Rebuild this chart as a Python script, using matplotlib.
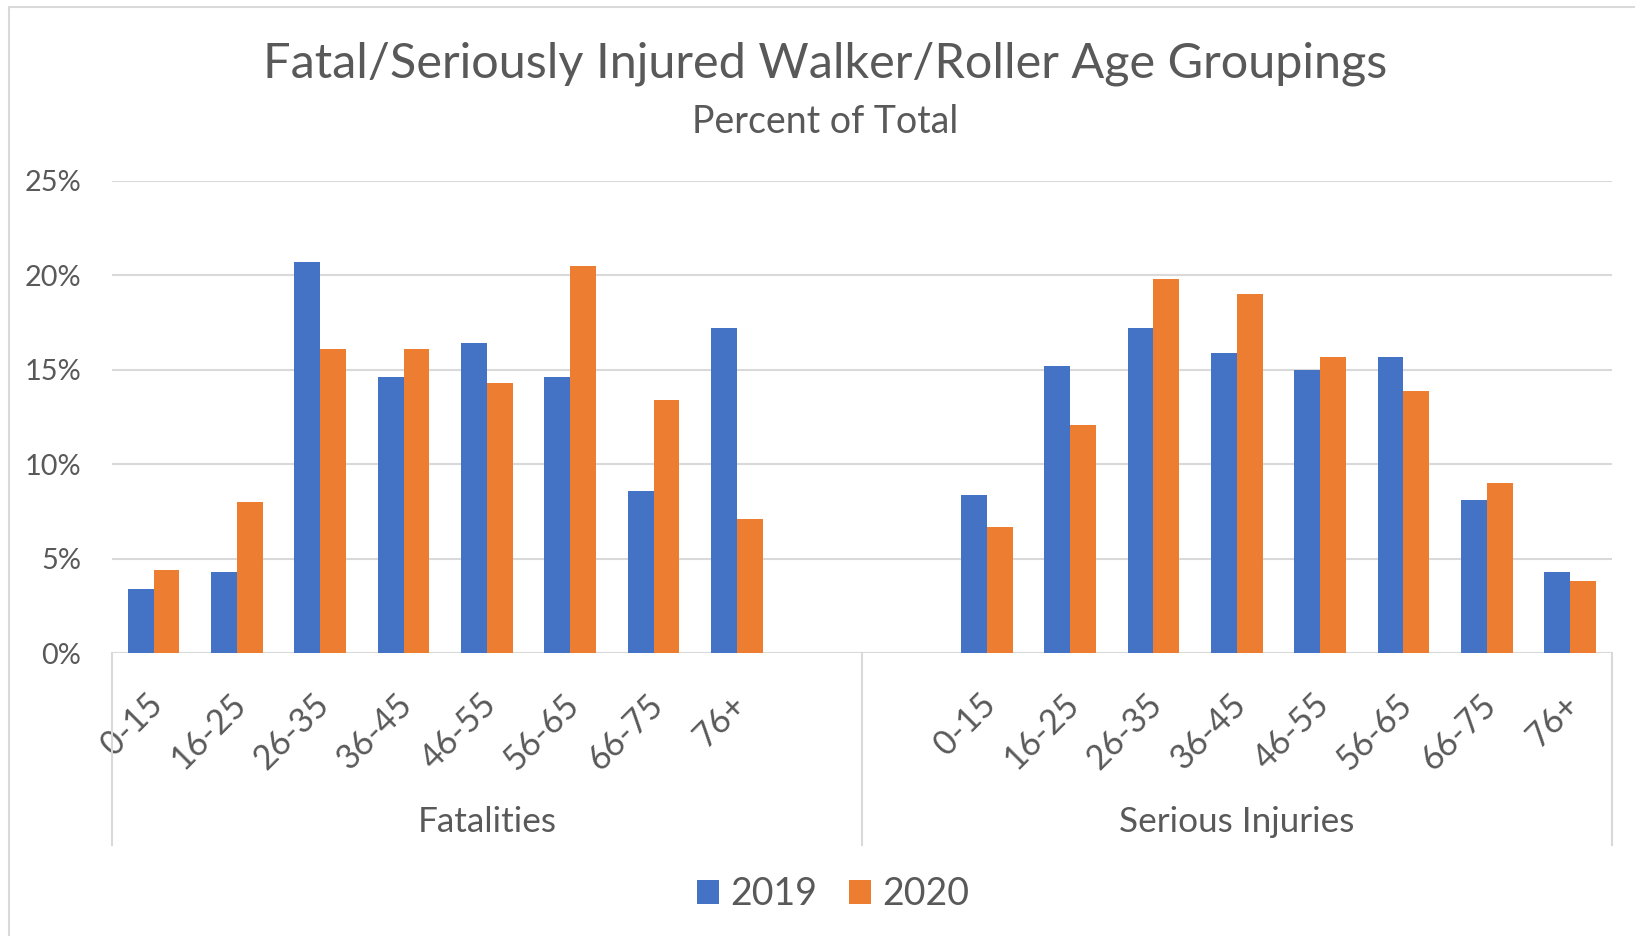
import matplotlib
matplotlib.use("Agg")
import matplotlib.pyplot as plt
import matplotlib.transforms as mtransforms
from matplotlib.patches import Patch, Rectangle
import numpy as np

plt.rcParams['font.family'] = ['Lato', 'DejaVu Sans']

# ---- data ----
age_groups = ["0-15", "16-25", "26-35", "36-45", "46-55", "56-65", "66-75", "76+"]
groups = ["Fatalities", "Serious Injuries"]
fatal_2019 = [3.4, 4.3, 20.7, 14.6, 16.4, 14.6, 8.6, 17.2]
fatal_2020 = [4.4, 8.0, 16.1, 16.1, 14.3, 20.5, 13.4, 7.1]
injury_2019 = [8.4, 15.2, 17.2, 15.9, 15.0, 15.7, 8.1, 4.3]
injury_2020 = [6.7, 12.1, 19.8, 19.0, 15.7, 13.9, 9.0, 3.8]
series_names = ["2019", "2020"]
yticks = [0, 5, 10, 15, 20, 25]

BLUE = "#4472C4"
ORANGE = "#ED7D31"
TXT = "#595959"
GRID = "#D9D9D9"

W, H = 1635, 936
fig = plt.figure(figsize=(W / 100, H / 100), dpi=100)

# outer chart border
fig.patches.append(Rectangle((9 / W, -0.1), 1.2, 1 - 7 / H + 0.1, transform=fig.transFigure,
                             fill=False, edgecolor=GRID, lw=1.5))

left, right = 112 / W, 1611.7 / W
bottom, top = 1 - 653.3 / H, 1 - 180.7 / H
ax = fig.add_axes([left, bottom, right - left, top - bottom])

n = len(age_groups)
slots_per_group = n + 1
fat_pos = np.arange(n)
inj_pos = np.arange(n) + slots_per_group + 1
bw = 0.31

ax.bar(fat_pos - bw / 2, fatal_2019, bw, color=BLUE, zorder=3)
ax.bar(fat_pos + bw / 2, fatal_2020, bw, color=ORANGE, zorder=3)
ax.bar(inj_pos - bw / 2, injury_2019, bw, color=BLUE, zorder=3)
ax.bar(inj_pos + bw / 2, injury_2020, bw, color=ORANGE, zorder=3)

total_slots = 2 * slots_per_group
ax.set_xlim(-0.5, total_slots - 0.5)
ax.set_ylim(0, 25)
ax.set_yticks(yticks)
ax.set_yticklabels([f"{v}%" for v in yticks])
for s in ax.spines.values():
    s.set_visible(False)
ax.grid(axis='y', color=GRID, lw=1.5, zorder=0)
ax.axhline(0, color=GRID, lw=1.5, zorder=2)
ax.tick_params(axis='y', length=0, pad=22, labelsize=20.8, labelcolor=TXT)

ticks = list(fat_pos) + list(inj_pos)
ax.set_xticks(ticks)
ax.set_xticklabels(age_groups + age_groups, rotation=45, ha='right', va='baseline',
                   rotation_mode='anchor')
ax.tick_params(axis='x', length=0, pad=38.5, labelsize=24.5, labelcolor=TXT)
shift = mtransforms.ScaledTranslation(11 / 100, 0, fig.dpi_scale_trans)
for lab in ax.get_xticklabels():
    lab.set_transform(lab.get_transform() + shift)

# group dividers and labels
trans = mtransforms.blended_transform_factory(ax.transData, ax.transAxes)
ybot = (653.3 - 845) / (653.3 - 180.7)
for xv in [-0.5, slots_per_group - 0.5, total_slots - 0.5]:
    ax.plot([xv, xv], [0, ybot], transform=trans, color=GRID, lw=1.5, clip_on=False)
ylab = (653.3 - 822) / (653.3 - 180.7)
for gi, g in enumerate(groups):
    cx = gi * slots_per_group + (slots_per_group - 1) / 2
    ax.text(cx, ylab, g, transform=trans, ha='center', va='center', fontsize=25.3, color=TXT)

title_x = 825 / W
fig.text(title_x, 1 - 64 / H, "Fatal/Seriously Injured Walker/Roller Age Groupings",
         ha='center', va='center', fontsize=35, color=TXT)
fig.text(title_x, 1 - 122 / H, "Percent of Total", ha='center', va='center', fontsize=27, color=TXT)

handles = [Patch(facecolor=BLUE), Patch(facecolor=ORANGE)]
fig.legend(handles, series_names, loc='center', bbox_to_anchor=(833 / W, 1 - 894 / H),
           ncol=2, frameon=False, fontsize=27, labelcolor=TXT,
           handlelength=0.6, handleheight=0.6, handletextpad=0.3, columnspacing=0.83)

fig.savefig("out.png", dpi=100)
